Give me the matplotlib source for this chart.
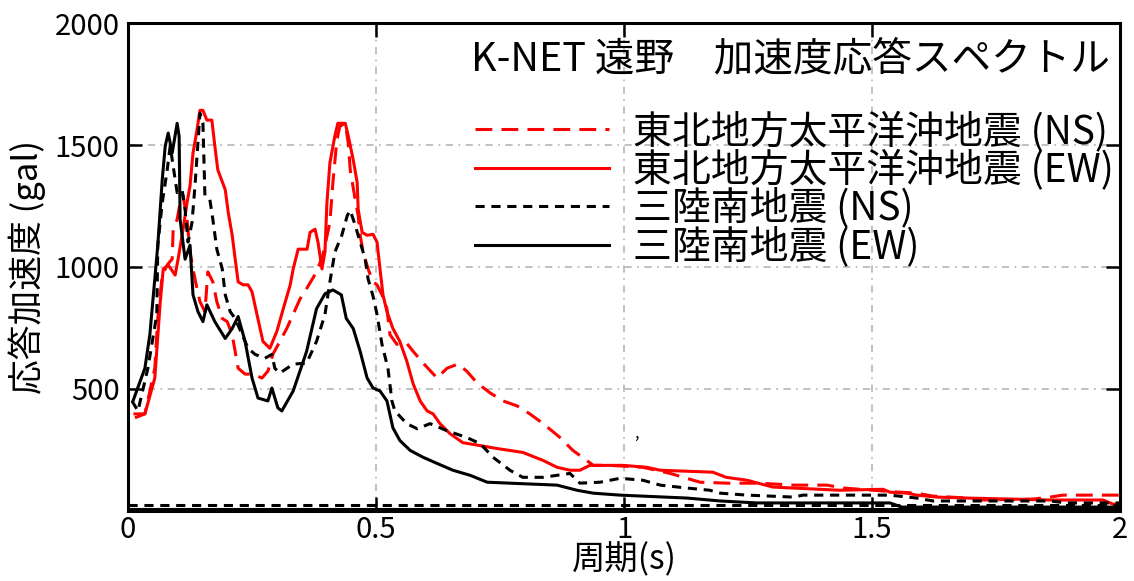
import matplotlib
matplotlib.use("Agg")
import matplotlib.pyplot as plt

plt.rcParams['font.family'] = ['Noto Sans CJK JP', 'DejaVu Sans']

# 東北地方太平洋沖地震 (NS)
t_ns_x = [0.014, 0.034, 0.054, 0.060, 0.069, 0.079, 0.089, 0.091, 0.099, 0.105, 0.111, 0.119, 0.125, 0.131,
          0.139, 0.145, 0.155, 0.161, 0.171, 0.179, 0.190, 0.200, 0.210, 0.216, 0.222, 0.236, 0.252, 0.270,
          0.282, 0.292, 0.320, 0.347, 0.360, 0.380, 0.393, 0.407, 0.413, 0.421, 0.427, 0.438, 0.444, 0.448,
          0.458, 0.464, 0.468, 0.474, 0.484, 0.494, 0.502, 0.512, 0.522, 0.528, 0.542, 0.562, 0.575, 0.595,
          0.623, 0.643, 0.665, 0.683, 0.704, 0.730, 0.756, 0.784, 0.810, 0.837, 0.871, 0.897, 0.925, 0.938,
          0.972, 1.038, 1.093, 1.153, 1.208, 1.274, 1.341, 1.409, 1.442, 1.476, 1.556, 1.590, 1.623, 1.692,
          1.724, 1.825, 1.859, 1.885, 2.000]
t_ns_y = [382, 398, 585, 789, 967, 1008, 1033, 1155, 1195, 1264, 1293, 1195, 1061, 992,
          911, 858, 817, 980, 939, 858, 789, 776, 723, 654, 585, 561, 561, 545,
          573, 642, 748, 870, 911, 980, 1049, 1183, 1346, 1520, 1577, 1589, 1508, 1398,
          1276, 1211, 1130, 1061, 992, 939, 927, 886, 829, 723, 683, 687, 654, 606,
          545, 585, 602, 573, 524, 484, 451, 431, 398, 358, 301, 248, 207, 187,
          187, 179, 154, 118, 114, 114, 106, 106, 94, 89, 77, 73, 61, 53,
          45, 49, 57, 65, 65]

# 東北地方太平洋沖地震 (EW)
t_ew_x = [0.014, 0.034, 0.054, 0.065, 0.071, 0.081, 0.095, 0.101, 0.111, 0.119, 0.125, 0.131, 0.139, 0.145,
          0.151, 0.159, 0.169, 0.175, 0.181, 0.196, 0.202, 0.210, 0.216, 0.222, 0.232, 0.242, 0.250, 0.260,
          0.272, 0.286, 0.300, 0.313, 0.327, 0.333, 0.343, 0.361, 0.367, 0.377, 0.383, 0.391, 0.397, 0.401,
          0.407, 0.417, 0.423, 0.438, 0.444, 0.454, 0.462, 0.464, 0.472, 0.482, 0.494, 0.502, 0.508, 0.514,
          0.522, 0.534, 0.548, 0.562, 0.575, 0.589, 0.603, 0.615, 0.629, 0.649, 0.675, 0.710, 0.744, 0.796,
          0.837, 0.865, 0.891, 0.911, 0.931, 0.998, 1.046, 1.073, 1.179, 1.206, 1.248, 1.300, 1.341, 1.435,
          1.522, 1.536, 1.571, 1.590, 1.630, 1.692, 1.859, 1.966, 1.986, 2.000]
t_ew_y = [398, 398, 545, 858, 992, 1008, 967, 1033, 1155, 1264, 1333, 1467, 1561, 1642,
          1642, 1602, 1602, 1496, 1398, 1317, 1224, 1130, 1033, 939, 927, 927, 898, 805,
          695, 667, 736, 829, 927, 992, 1073, 1073, 1142, 1155, 1102, 992, 1061, 1264,
          1427, 1537, 1589, 1589, 1537, 1439, 1346, 1236, 1142, 1130, 1134, 1102, 992, 886,
          817, 748, 695, 614, 520, 451, 410, 398, 358, 317, 280, 268, 256, 240,
          207, 179, 167, 167, 187, 187, 179, 167, 159, 138, 126, 98, 94, 85,
          89, 77, 73, 65, 57, 53, 45, 45, 28, 28]

# 三陸南地震 (NS)
s_ns_x = [0.008, 0.020, 0.040, 0.058, 0.060, 0.069, 0.079, 0.085, 0.090, 0.099, 0.109, 0.115, 0.121, 0.129,
          0.135, 0.145, 0.151, 0.155, 0.165, 0.171, 0.179, 0.190, 0.196, 0.206, 0.216, 0.230, 0.242, 0.256,
          0.276, 0.290, 0.296, 0.306, 0.333, 0.360, 0.380, 0.397, 0.407, 0.417, 0.431, 0.442, 0.448, 0.458,
          0.468, 0.478, 0.484, 0.494, 0.502, 0.512, 0.524, 0.532, 0.538, 0.562, 0.583, 0.609, 0.643, 0.683,
          0.710, 0.736, 0.770, 0.796, 0.837, 0.891, 0.911, 0.952, 0.992, 1.038, 1.073, 1.127, 1.173, 1.194,
          1.248, 1.341, 1.361, 1.536, 1.590, 1.623, 1.859, 1.893, 2.000]
s_ns_y = [451, 410, 585, 805, 1089, 1264, 1398, 1496, 1427, 1305, 1317, 1236, 1102, 1183,
          1333, 1630, 1589, 1293, 1276, 1195, 1073, 992, 886, 817, 789, 723, 667, 642,
          626, 642, 585, 565, 602, 606, 695, 805, 939, 1061, 1130, 1211, 1232, 1171,
          1102, 1033, 951, 880, 805, 683, 585, 451, 410, 358, 337, 358, 329, 301,
          276, 220, 167, 138, 138, 154, 114, 118, 134, 126, 106, 94, 85, 73,
          65, 57, 65, 65, 53, 41, 41, 33, 33]

# 三陸南地震 (EW)
s_ew_x = [0.010, 0.034, 0.044, 0.060, 0.069, 0.075, 0.081, 0.089, 0.099, 0.103, 0.105, 0.115, 0.125, 0.131,
          0.141, 0.151, 0.159, 0.175, 0.196, 0.210, 0.222, 0.236, 0.250, 0.262, 0.282, 0.290, 0.302, 0.310,
          0.333, 0.360, 0.380, 0.397, 0.413, 0.430, 0.440, 0.454, 0.468, 0.482, 0.494, 0.508, 0.522, 0.534,
          0.548, 0.569, 0.595, 0.623, 0.655, 0.690, 0.724, 0.770, 0.865, 0.905, 0.938, 0.992, 1.127, 1.194,
          1.268, 1.536, 1.560, 2.000]
s_ew_y = [451, 585, 723, 1089, 1358, 1496, 1549, 1467, 1589, 1536, 1195, 1032, 1089, 886,
          817, 776, 845, 776, 707, 748, 797, 695, 545, 463, 451, 504, 423, 410,
          492, 654, 829, 890, 906, 886, 789, 748, 654, 545, 504, 492, 451, 341,
          289, 248, 220, 195, 167, 146, 118, 114, 106, 85, 73, 65, 53, 41,
          33, 33, 16, 16]

# 低い水平線 (gal)
floor_ns = 24
floor_ew = 8

labels = ['東北地方太平洋沖地震 (NS)', '東北地方太平洋沖地震 (EW)', '三陸南地震 (NS)', '三陸南地震 (EW)']

fig = plt.figure(figsize=(11.34, 5.81), dpi=100)
ax = fig.add_axes([0.1129, 0.1205, 0.8748, 0.8399])

lw = 2.2
ax.plot(t_ns_x, t_ns_y, color='red', lw=lw, linestyle=(0, (5.5, 3)), label=labels[0])
ax.plot(t_ew_x, t_ew_y, color='red', lw=lw, linestyle='-', label=labels[1])
ax.plot(s_ns_x, s_ns_y, color='black', lw=lw, linestyle=(0, (3, 2.2)), label=labels[2])
ax.plot(s_ew_x, s_ew_y, color='black', lw=lw, linestyle='-', label=labels[3])
ax.axhline(floor_ns, color='black', lw=lw, linestyle=(0, (3, 2.2)))
ax.axhline(floor_ew, color='black', lw=lw)

ax.set_xlim(0, 2)
ax.set_ylim(0, 2000)
ax.set_xticks([0, 0.5, 1, 1.5, 2])
ax.set_xticklabels(['0', '0.5', '1', '1.5', '2'])
ax.set_yticks([500, 1000, 1500, 2000])
ax.grid(True, color='#bbbbbb', linestyle=(0, (4, 3, 1, 3)), lw=1.3)
ax.tick_params(direction='in', length=10, width=1.8, top=True, right=True, labelsize=21, pad=6)
ax.tick_params(axis='x', pad=3)
for s in ax.spines.values():
    s.set_linewidth(2.2)

ax.set_xlabel('周期(s)', fontsize=24, labelpad=-2)
ax.set_ylabel('応答加速度 (gal)', fontsize=25, labelpad=6)

ax.text(0.99, 0.925, 'K-NET 遠野\u3000加速度応答スペクトル', transform=ax.transAxes,
        ha='right', va='center', fontsize=28.5)
ax.text(1.02, 300, ',', fontsize=12)

ax.legend(loc='upper right', bbox_to_anchor=(0.994, 0.82), frameon=False, fontsize=28,
          handlelength=3.45, handletextpad=0.62, labelspacing=-0.06, borderaxespad=0, borderpad=0)

fig.savefig('out.png', dpi=100)
